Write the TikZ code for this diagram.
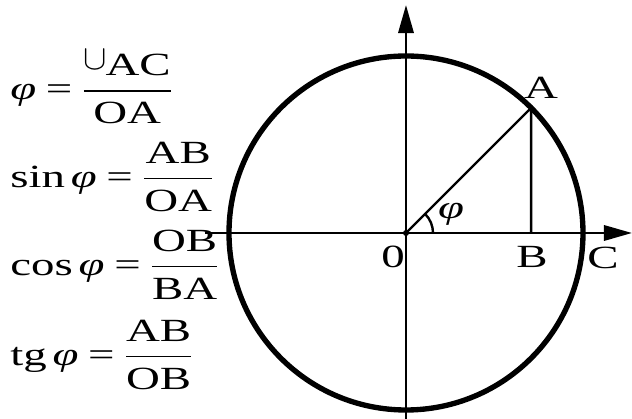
\documentclass[tikz,border=0pt]{standalone}
\usepackage{amsmath}
\usepackage{fontspec}
\setmainfont[FakeStretch=1.45]{Liberation Serif}
\usetikzlibrary{arrows.meta}
\tikzset{axisline/.style={line width=1.9pt, -{Triangle[length=0.7cm,width=0.38cm]}},
         thinline/.style={line width=1.7pt},
         rim/.style={line width=3.8pt},
         lbl/.style={font=\fontsize{23}{28}\selectfont, inner sep=0pt},
         formula/.style={font=\fontsize{23}{28}\selectfont, anchor=west, inner sep=0pt}}
\newcommand{\phiit}{\mbox{\itshape φ}}
\newcommand{\eqs}{\mathrel{\mbox{=}}}

\begin{document}
\begin{tikzpicture}[x=0.025cm,y=0.025cm]
  \useasboundingbox (-406,-186) rectangle (226,233);
  \coordinate (O) at (0,0);
  \coordinate (A) at (45:177);
  \coordinate (B) at (A |- O);
  \coordinate (xl) at (-201,0);
  \coordinate (xr) at (226,0);
  \coordinate (yb) at (0,-186);
  \coordinate (yt) at (0,228);
  \coordinate (arcstart) at (27,0);
  % circle and axes
  \draw[rim] (O) circle[radius=177];
  \draw[axisline] (xl) -- (xr);
  \draw[axisline] (yb) -- (yt);
  \draw[thinline] (O) -- (A) -- (B);
  \draw[thinline] (arcstart) arc[start angle=0, end angle=45, radius=27];
  \fill (O) circle[radius=3];
  % point labels
  \node[lbl] (lA)   at (135,145) {A};
  \node[lbl] (lB)   at (126,-24) {B};
  \node[lbl] (lC)   at (197,-25) {C};
  \node[lbl] (lO)   at (-13,-24) {0};
  \node[lbl] (lphi) at (45,19)   {\phiit};
  % formulas
  \node[formula] (f1) at (-396,146) {$\phiit\eqs\dfrac{\raisebox{0.2em}{$\cup$}\kern-0.05em\mbox{AC}}{\mbox{OA}}$};
  \node[formula] (f2) at (-396,56)  {$\mbox{sin}\,\phiit\eqs\dfrac{\mbox{AB}}{\mbox{OA}}$};
  \node[formula] (f3) at (-396,-32) {$\mbox{cos}\,\phiit\eqs\dfrac{\mbox{OB}}{\mbox{BA}}$};
  \node[formula] (f4) at (-396,-122) {$\mbox{tg}\,\phiit\eqs\dfrac{\mbox{AB}}{\mbox{OB}}$};
\end{tikzpicture}
\end{document}
